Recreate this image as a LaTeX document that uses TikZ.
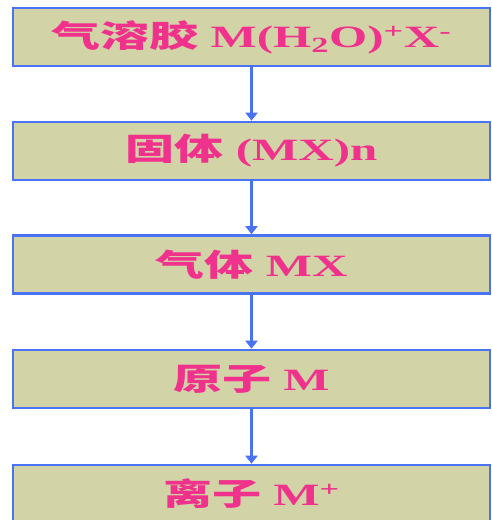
\documentclass[tikz,border=0pt]{standalone}
\usepackage{fontspec}
\setmainfont{Liberation Serif}
\newfontfamily\cjk{Noto Sans CJK SC}
\usetikzlibrary{arrows.meta}
\definecolor{boxfill}{HTML}{D2D4A8}
\definecolor{boxline}{HTML}{4A72F5}
\definecolor{txtpink}{HTML}{F0328C}
\newcommand{\wide}[1]{\scalebox{1.58}[1]{#1}}
\tikzset{
  stage/.style={draw=boxline, line width=2.6pt, fill=boxfill, minimum width=477pt, minimum height=58pt, inner sep=0pt, text=txtpink, font=\fontsize{31}{31}\selectfont\bfseries},
  flow/.style={draw=boxline, line width=2.6pt, -{Triangle[width=12pt,length=8pt]}}
}
\begin{document}
\begin{tikzpicture}
\useasboundingbox (0,0) rectangle (491pt,520pt);
\clip (0,0) rectangle (491pt,520pt);
\node[stage] (b1) at (251.5pt,483pt) {\wide{{\cjk 气溶胶} M(H\textsubscript{2}O)\textsuperscript{+}X\textsuperscript{-}}};
\node[stage] (b2) at (251.5pt,369pt) {\wide{{\cjk 固体} (MX)n}};
\node[stage] (b3) at (251.5pt,255.5pt) {\wide{{\cjk 气体} MX}};
\node[stage] (b4) at (251.5pt,141pt) {\wide{{\cjk 原子} M}};
\node[stage] (b5) at (251.5pt,26pt) {\wide{{\cjk 离子} M\textsuperscript{+}}};
\draw[flow] (b1) -- (b2);
\draw[flow] (b2) -- (b3);
\draw[flow] (b3) -- (b4);
\draw[flow] (b4) -- (b5);
\end{tikzpicture}
\end{document}
